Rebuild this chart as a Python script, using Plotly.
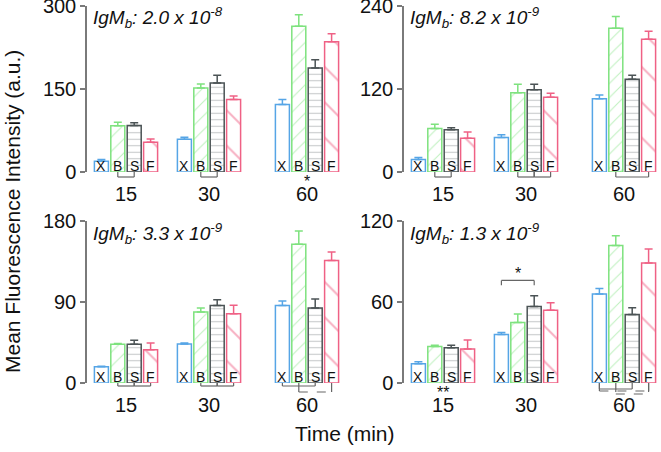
import plotly.graph_objects as go

# ---------------- data ----------------
times = ["15", "30", "60"]
series = ["X", "B", "S", "F"]
panel_labels = [
    "<i>IgM<sub>b</sub>: 2.0 x 10<sup>-8</sup></i>",
    "<i>IgM<sub>b</sub>: 8.2 x 10<sup>-9</sup></i>",
    "<i>IgM<sub>b</sub>: 3.3 x 10<sup>-9</sup></i>",
    "<i>IgM<sub>b</sub>: 1.3 x 10<sup>-9</sup></i>",
]
y_max = [300, 240, 180, 120]
y_ticks = [[0, 150, 300], [0, 120, 240], [0, 90, 180], [0, 60, 120]]

# mean values per panel: rows = series X,B,S,F ; columns = times 15,30,60
p1_mean = [[19.5, 59, 122], [83.4, 152, 263.5], [84, 161, 188], [53.6, 131, 235.5]]
p1_top = [[22.5, 62.7, 131], [90, 159, 284], [89, 175, 203], [59.6, 137.5, 250]]
p2_mean = [[18, 49.7, 106], [63, 114.4, 208], [61, 118.8, 134], [48.7, 108, 192]]
p2_top = [[21, 54, 111.5], [69, 127, 225], [64, 127, 140], [58, 114, 203.5]]
p3_mean = [[18, 43.3, 86], [43, 79, 154.3], [43, 86, 83.4], [37, 77, 136]]
p3_top = [[18.7, 44.5, 91], [44, 83.4, 169], [47.4, 92.6, 93.3], [44.5, 86.3, 145.5]]
p4_mean = [[14.2, 36, 65.9], [27, 44.8, 101.9], [26.2, 56.6, 50.7], [25.2, 53.9, 88.9]]
p4_top = [[15.7, 37.5, 70], [28, 51.2, 109], [28, 64.7, 55.8], [31.8, 59.5, 99.2]]
means = [p1_mean, p2_mean, p3_mean, p4_mean]
tops = [p1_top, p2_top, p3_top, p4_top]

# significance brackets below bars: (panel, time index, series i, series j, dashed)
brackets = [
    (0, 0, 1, 2, False), (0, 1, 1, 2, False),
    (1, 0, 1, 2, False), (1, 1, 1, 2, False), (1, 1, 2, 3, False), (1, 2, 1, 3, False),
    (2, 0, 1, 2, False), (2, 0, 2, 3, False), (2, 1, 1, 2, False), (2, 1, 2, 3, False),
    (2, 2, 0, 2, False), (2, 2, 1, 3, True),
    (3, 2, 0, 2, False), (3, 2, 0, 3, True), (3, 2, 1, 3, True),
]
# asterisks: (panel, time index, text)
stars = [(0, 2, "*"), (3, 0, "**")]

# ---------------- style / layout ----------------
W, H = 661, 452
colors = ["#56a5e6", "#7ee27e", "#4b5355", "#ef6185"]
pattern_fg = ["#56a5e6", "#7ee27e", "#8a8f91", "#ef6185"]
shapes_p = ["", "/", "-", "\\"]
p_size = [8, 10, 6.5, 25]
p_sol = [0.1, 0.1, 0.16, 0.08]
GROUP_POS = [39, 122, 220]
OFFSETS = [-24.6, -8.2, 8.2, 24.6]
BAR_W = 14
XRANGE = [0, 255]
FONT = "Liberation Sans, Arial, sans-serif"

# pixel boxes (left, right, top, bottom of plot area)
boxes = [(87, 342, 6, 172), (404, 659, 6, 172), (87, 342, 221, 383), (404, 659, 221, 383)]
# bracket levels (pixels) per panel: solid, dashed levels
levels = {0: [177, 182], 1: [177, 182], 2: [386, 392], 3: [389, 391, 394]}

fig = go.Figure()
shapes = []
annotations = []

def px2py(p):
    return 1 - p / H

for k in range(4):
    xa = "x" if k == 0 else f"x{k+1}"
    ya = "y" if k == 0 else f"y{k+1}"
    for s in range(4):
        xs = [GROUP_POS[g] + OFFSETS[s] for g in range(3)]
        vals = means[k][s]
        errs = [tops[k][s][g] - vals[g] for g in range(3)]
        fig.add_trace(go.Bar(
            x=xs, y=vals, width=BAR_W, xaxis=xa, yaxis=ya, showlegend=False,
            marker=dict(
                color="white",
                line=dict(color=colors[s], width=1.5),
                pattern=dict(shape=shapes_p[s], fgcolor=pattern_fg[s], bgcolor="white",
                             size=p_size[s], solidity=p_sol[s]),
            ),
            error_y=dict(type="data", symmetric=False, array=errs,
                         arrayminus=[0, 0, 0], color=colors[s], thickness=1.5, width=4),
        ))
        for g in range(3):
            annotations.append(dict(
                x=xs[g], y=0, xref=xa, yref=ya, text=series[s], showarrow=False,
                yanchor="bottom", yshift=-4, font=dict(size=14, color="#111", family=FONT)))
    l, r, t, b = boxes[k]
    axis_x = dict(domain=[l / W, r / W], range=XRANGE, showgrid=False, zeroline=False,
                  showline=False, tickvals=GROUP_POS, ticktext=times, ticks="outside",
                  ticklen=4, tickcolor="rgba(0,0,0,0)", automargin=False,
                  ticklabeloverflow="allow",
                  tickfont=dict(size=20, family=FONT, color="#111"), anchor=ya)
    axis_y = dict(domain=[px2py(b), px2py(t)], range=[0, y_max[k]], showgrid=False,
                  zeroline=False, showline=True, linecolor="#7a7a7a", linewidth=1.5,
                  ticks="outside", ticklen=5, tickwidth=1.5, tickcolor="#7a7a7a",
                  automargin=False, ticklabeloverflow="allow",
                  tickvals=y_ticks[k], tickfont=dict(size=20, family=FONT, color="#111"),
                  anchor=xa)
    key = "" if k == 0 else str(k + 1)
    fig.layout["xaxis" + key] = axis_x
    fig.layout["yaxis" + key] = axis_y
    annotations.append(dict(x=(l + 4) / W, y=px2py(t + 12), xref="paper", yref="paper",
                            text=panel_labels[k], showarrow=False, xanchor="left",
                            yanchor="middle", font=dict(size=19, family=FONT, color="#111")))

# brackets below bars
for (k, g, i, j, dashed) in brackets:
    xa = "x" if k == 0 else f"x{k+1}"
    b = boxes[k][3]
    lv = levels[k]
    if k == 3 and dashed:
        lvl = lv[1] if i == 0 else lv[2]
    else:
        lvl = lv[1] if dashed else lv[0]
    x1 = GROUP_POS[g] + OFFSETS[i]
    x2 = GROUP_POS[g] + OFFSETS[j]
    dash = "dash" if dashed else "solid"
    ln = dict(color="#666", width=1.2, dash=dash)
    for xv in (x1, x2):
        shapes.append(dict(type="line", xref=xa, yref="paper", x0=xv, x1=xv,
                           y0=px2py(b), y1=px2py(lvl), line=ln))
    shapes.append(dict(type="line", xref=xa, yref="paper", x0=x1, x1=x2,
                       y0=px2py(lvl), y1=px2py(lvl), line=ln))

# bracket above bars (panel 4, 30 min, X vs S)
xl = GROUP_POS[1] + OFFSETS[0]
xr = GROUP_POS[1] + OFFSETS[2]
ln = dict(color="#666", width=1.2)
shapes += [
    dict(type="line", xref="x4", yref="y4", x0=xl, x1=xr, y0=76, y1=76, line=ln),
    dict(type="line", xref="x4", yref="y4", x0=xl, x1=xl, y0=76, y1=72.5, line=ln),
    dict(type="line", xref="x4", yref="y4", x0=xr, x1=xr, y0=76, y1=72.5, line=ln),
]
annotations.append(dict(x=(xl + xr) / 2, y=76, xref="x4", yref="y4", text="*",
                        showarrow=False, yanchor="bottom", yshift=-4,
                        font=dict(size=16, family=FONT, color="#111")))

for (k, g, txt) in stars:
    xa = "x" if k == 0 else f"x{k+1}"
    b = boxes[k][3]
    annotations.append(dict(x=GROUP_POS[g], y=px2py(b + 9), xref=xa, yref="paper", text=txt,
                            showarrow=False, yanchor="middle",
                            font=dict(size=16, family=FONT, color="#111")))

annotations.append(dict(x=12 / W, y=px2py(212), xref="paper", yref="paper",
                        xanchor="center", yanchor="middle",
                        text="Mean Fluorescence Intensity (a.u.)", showarrow=False,
                        textangle=-90, font=dict(size=21, family=FONT, color="#111")))
annotations.append(dict(x=345 / W, y=px2py(433), xref="paper", yref="paper",
                        xanchor="center", yanchor="middle",
                        text="Time (min)", showarrow=False,
                        font=dict(size=21, family=FONT, color="#111")))

fig.update_layout(width=W, height=H, margin=dict(l=0, r=0, t=0, b=0, autoexpand=False),
                  paper_bgcolor="white", plot_bgcolor="white", barmode="overlay",
                  shapes=shapes, annotations=annotations, font=dict(family=FONT))

fig.write_html("out.html")
